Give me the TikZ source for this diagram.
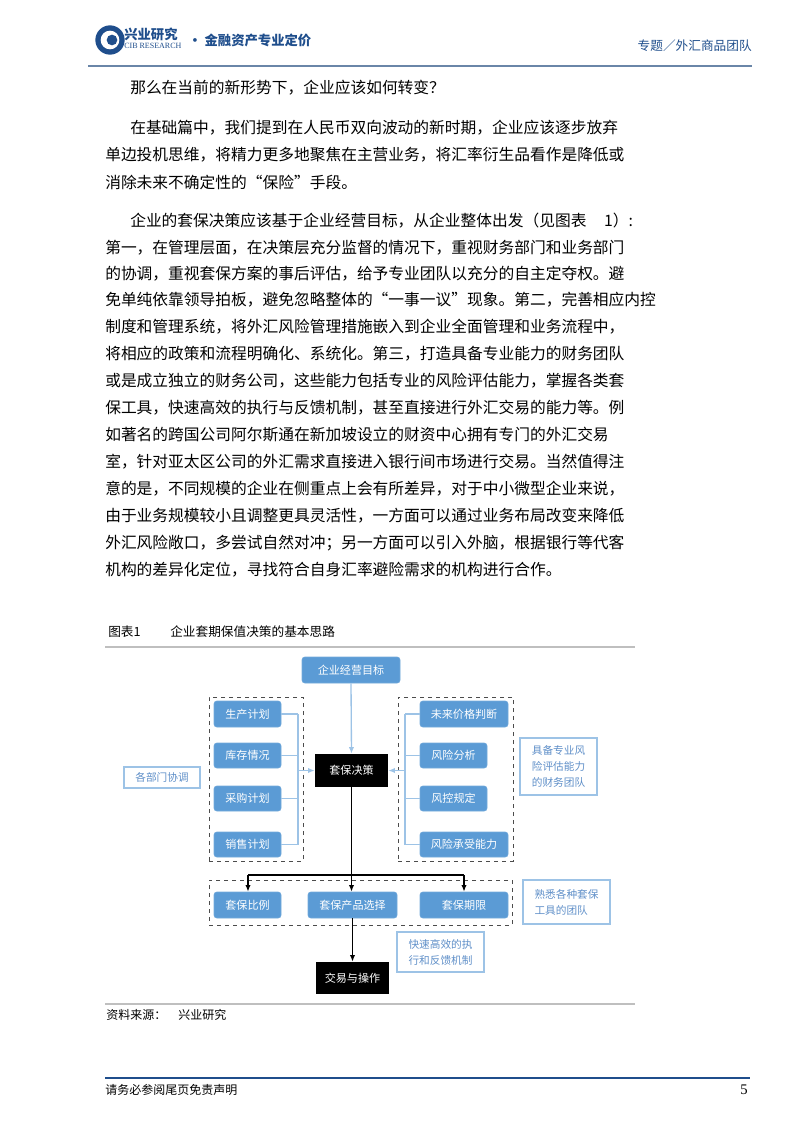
\documentclass[tikz,border=0pt]{standalone}
\usepackage{fontspec}
\setmainfont{Liberation Serif}
\newfontfamily\cjk{Noto Sans CJK SC}
\XeTeXlinebreaklocale "zh"
\XeTeXlinebreakskip=0pt plus 3pt minus 0.3pt
\usetikzlibrary{arrows.meta}
\definecolor{bfill}{HTML}{5B9BD5}
\definecolor{lblue}{HTML}{9DC3E6}
\definecolor{ltext}{HTML}{5F8FC8}
\definecolor{navy}{HTML}{1F4E8C}
\definecolor{hline}{HTML}{6A86A8}
\newcommand\bodyfont{\cjk\fontsize{11.8}{14}\selectfont}
\newcommand\jline[3]{\node[anchor=west,inner sep=0] at (#1,#2) {\bodyfont\hbox to 394pt{#3}};}
\newcommand\rline[3]{\node[anchor=west,inner sep=0] at (#1,#2) {\bodyfont #3};}
% \bx[style]{name}{x1}{y1}{x2}{y2}{text}
\newcommand\bx[7][]{\node[#1,minimum width={(#5-#3)*0.75pt},minimum height={(#6-#4)*0.75pt}] (#2) at ({(#3+#5)/2},{(#4+#6)/2}) {#7};}
\tikzset{
 bb/.style={fill=bfill,draw=bfill!85!white,rounded corners=2pt,text=white,inner sep=0,font=\cjk\fontsize{8.3}{10}\selectfont},
 kb/.style={fill=black,text=white,inner sep=0,font=\cjk\fontsize{8.3}{10}\selectfont},
 lbox/.style={draw=lblue,line width=0.8pt,inner sep=0,text=ltext,align=left,font=\cjk\fontsize{8}{12}\selectfont},
 dbox/.style={draw=black!70,dashed,line width=0.7pt,inner sep=0},
 lc/.style={draw=lblue,line width=1pt},
 kc/.style={draw=black,line width=1pt},
 ar/.style={-{Latex[length=5pt,width=4pt]}}
}
\begin{document}
\begin{tikzpicture}[x=0.75pt,y=-0.75pt]
\useasboundingbox (0,0) rectangle (800,1132);
% header
\fill[navy] (110,40) circle (11pt);
\fill[white] (110,40) circle (7pt);
\fill[navy] (112,40) circle (4pt);
\node[anchor=west,inner sep=0,text=navy] (hlogo) at (124,34) {\cjk\fontsize{10}{10}\selectfont\bfseries 兴业研究};
\node[anchor=west,inner sep=0,text=navy] (hcib) at (124,46) {\fontsize{6}{6}\selectfont CIB RESEARCH};
\node[anchor=west,inner sep=0,text=navy] (htag) at (188,40) {\cjk\fontsize{10}{10}\selectfont\bfseries • 金融资产专业定价};
\node[anchor=east,inner sep=0,text=navy] (hright) at (752,46) {\cjk\fontsize{9.5}{10}\selectfont 专题／外汇商品团队};
\draw[hline,line width=1pt] (88,66) -- (752,66);
% body
\rline{130}{88}{那么在当前的新形势下，企业应该如何转变？}
\node[anchor=west,inner sep=0] at (130,128) {\bodyfont\hbox to 377pt{在基础篇中，我们提到在人民币双向波动的新时期，企业应该逐步放弃}};
\jline{105}{155}{单边投机思维，将精力更多地聚焦在主营业务，将汇率衍生品看作是降低或}
\rline{105}{182}{消除未来不确定性的“保险”手段。}
\node[anchor=west,inner sep=0] at (130,221) {\bodyfont\hbox to 377pt{企业的套保决策应该基于企业经营目标，从企业整体出发（见图表 1）:}};
\jline{105}{248}{第一，在管理层面，在决策层充分监督的情况下，重视财务部门和业务部门}
\jline{105}{274}{的协调，重视套保方案的事后评估，给予专业团队以充分的自主定夺权。避}
\jline{105}{300}{免单纯依靠领导拍板，避免忽略整体的“一事一议”现象。第二，完善相应内控}
\jline{105}{327}{制度和管理系统，将外汇风险管理措施嵌入到企业全面管理和业务流程中，}
\jline{105}{354}{将相应的政策和流程明确化、系统化。第三，打造具备专业能力的财务团队}
\jline{105}{381}{或是成立独立的财务公司，这些能力包括专业的风险评估能力，掌握各类套}
\jline{105}{408}{保工具，快速高效的执行与反馈机制，甚至直接进行外汇交易的能力等。例}
\jline{105}{435}{如著名的跨国公司阿尔斯通在新加坡设立的财资中心拥有专门的外汇交易}
\jline{105}{462}{室，针对亚太区公司的外汇需求直接进入银行间市场进行交易。当然值得注}
\jline{105}{489}{意的是，不同规模的企业在侧重点上会有所差异，对于中小微型企业来说，}
\jline{105}{516}{由于业务规模较小且调整更具灵活性，一方面可以通过业务布局改变来降低}
\jline{105}{543}{外汇风险敞口，多尝试自然对冲；另一方面可以引入外脑，根据银行等代客}
\rline{105}{570}{机构的差异化定位，寻找符合自身汇率避险需求的机构进行合作。}
% figure caption
\node[anchor=west,inner sep=0] (cap1) at (108,632) {\cjk\fontsize{9.5}{10}\selectfont 图表1};
\node[anchor=west,inner sep=0] (cap2) at (170,632) {\cjk\fontsize{9.5}{10}\selectfont 企业套期保值决策的基本思路};
\draw[black!25,line width=0.8pt] (105,647) -- (635,647);
\draw[black!25,line width=0.8pt] (105,1004) -- (635,1004);
\node[anchor=west,inner sep=0] (src) at (106,1015) {\cjk\fontsize{9}{10}\selectfont 资料来源：\quad 兴业研究};
% dashed groups
\bx[dbox]{gl}{209}{697}{303}{861}{}
\bx[dbox]{gr}{398}{697}{513}{861}{}
\bx[dbox]{gb}{209}{880}{512}{925}{}
% boxes
\bx[bb]{goal}{302}{657}{400}{683}{企业经营目标}
\bx[kb]{dec}{315}{754}{388}{787}{套保决策}
\bx[bb]{p1}{214}{701}{281}{727}{生产计划}
\bx[bb]{p2}{214}{743}{281}{768}{库存情况}
\bx[bb]{p3}{214}{786}{281}{811}{采购计划}
\bx[bb]{p4}{214}{832}{281}{857}{销售计划}
\bx[bb]{q1}{420}{701}{508}{727}{未来价格判断}
\bx[bb]{q2}{420}{743}{487}{768}{风险分析}
\bx[bb]{q3}{420}{786}{487}{811}{风控规定}
\bx[bb]{q4}{420}{832}{508}{857}{风险承受能力}
\bx[bb]{s1}{214}{892}{281}{918}{套保比例}
\bx[bb]{s2}{308}{892}{397}{918}{套保产品选择}
\bx[bb]{s3}{420}{892}{508}{918}{套保期限}
\bx[kb]{trade}{316}{962}{389}{994}{交易与操作}
% light boxes
\bx[lbox]{n1}{124}{767}{200}{788}{各部门协调}
\bx[lbox]{n2}{520}{738}{597}{795}{具备专业风\\险评估能力\\的财务团队}
\bx[lbox]{n3}{523}{880}{610}{924}{熟悉各种套保\\工具的团队}
\bx[lbox]{n4}{397}{932}{484}{972}{快速高效的执\\行和反馈机制}
% connectors
\coordinate (lt) at (298,714);
\coordinate (lbt) at (298,845);
\coordinate (rt) at (405,714);
\coordinate (rbt) at (405,845);
\draw[lc,ar] (goal.south) -- (dec.north);
\foreach \n in {p1,p2,p3,p4} \draw[lc] (\n.east) -- (\n.east -| lt);
\draw[lc] (lt) -- (lbt);
\draw[lc,ar] (lt |- dec.west) -- (dec.west);
\foreach \n in {q1,q2,q3,q4} \draw[lc] (\n.west) -- (\n.west -| rt);
\draw[lc] (rt) -- (rbt);
\draw[lc,ar] (rt |- dec.east) -- (dec.east);
\coordinate (hl) at (248,875);
\coordinate (hr) at (464,875);
\draw[kc,ar] (dec.south) -- (dec.south |- s2.north);
\draw[kc] (hl) -- (hr);
\draw[kc,ar] (hl) -- (hl |- s1.north);
\draw[kc,ar] (hr) -- (hr |- s3.north);
\draw[kc,ar] (s2.south) -- (trade.north);
% footer
\draw[navy,line width=1pt] (105,1078) -- (750,1078);
\node[anchor=west,inner sep=0] (foot) at (105,1090) {\cjk\fontsize{9}{10}\selectfont 请务必参阅尾页免责声明};
\node[anchor=east,inner sep=0] (pg) at (748,1090) {\fontsize{11}{11}\selectfont 5};
\end{tikzpicture}
\end{document}
